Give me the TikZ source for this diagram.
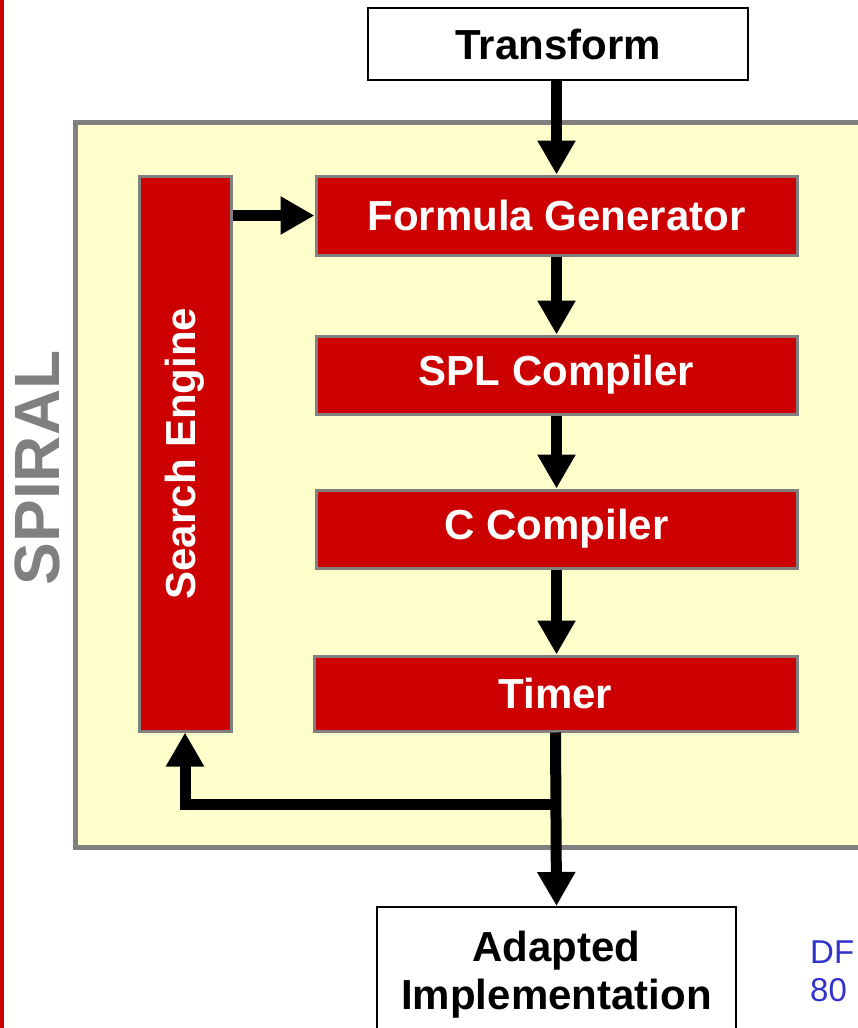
\documentclass[tikz,border=0pt]{standalone}
\usepackage{fontspec}
\setmainfont{Liberation Sans}
\usetikzlibrary{arrows.meta,calc}
\definecolor{boxred}{RGB}{204,0,0}
\definecolor{panel}{RGB}{255,255,204}
\definecolor{edgegray}{RGB}{128,128,128}
\definecolor{noteblue}{RGB}{51,51,204}
\tikzset{
  redbox/.style={draw=edgegray, line width=3pt, fill=boxred, text=white, inner sep=0pt,
    font=\fontsize{42}{50}\selectfont\bfseries},
  whitebox/.style={draw=black, line width=2pt, fill=white, text=black, inner sep=0pt,
    font=\fontsize{42}{48}\selectfont\bfseries, align=center},
  arr/.style={line width=11pt, -{Triangle[width=36pt,length=34pt]}},
}
\begin{document}
\begin{tikzpicture}[x=1pt,y=-1pt]
\useasboundingbox (0,0) rectangle (858,1028);
% left red rule
\fill[boxred] (0,0) rectangle (4,1028);
% yellow panel
\draw[draw=edgegray, line width=5pt, fill=panel] (75.5,122.5) rectangle (880,847.5);
% SPIRAL label
\node[rotate=90, text=edgegray, font=\fontsize{64}{70}\selectfont\bfseries, inner sep=0pt] (spiral) at (37,468) {SPIRAL};
% boxes
\node[whitebox, minimum width=380pt, minimum height=72pt] (tr) at (558,44) {Transform};
\node[redbox, minimum width=481pt, minimum height=79pt] (fg) at (556.5,215.5) {Formula Generator};
\node[redbox, minimum width=481pt, minimum height=78pt] (spl) at (556.5,375) {SPL Compiler};
\node[redbox, minimum width=481pt, minimum height=78pt] (cc) at (556.5,529) {C Compiler};
\node[redbox, minimum width=483pt, minimum height=75pt] (tm) at (555.5,693.5) {Timer};
\node[redbox, minimum width=92pt, minimum height=555pt] (se) at (185,453.5) {};
\node[rotate=90, text=white, font=\fontsize{42}{50}\selectfont\bfseries, inner sep=0pt] (setxt) at (se.center) {Search Engine};
\node[whitebox, minimum width=359pt, minimum height=135pt] (ai) at (556.5,974.5) {Adapted\\Implementation};
% note
\node[anchor=north west, text=noteblue, font=\fontsize{33}{38}\selectfont, align=left, inner sep=0pt] (note) at (810,941) {DF\\80};
% connectors
\draw[arr] (tr.south -| fg.north) -- (fg.north);
\draw[arr] (se.east |- fg.west) -- (fg.west);
\draw[arr] (fg.south) -- (spl.north);
\draw[arr] (spl.south) -- (cc.north);
\draw[arr] (cc.south) -- (tm.north -| cc.south);
\coordinate (br) at ($(tm.south)+(0,72)$);
\draw[arr] (tm.south) -- (ai.north);
\draw[arr] (br) -| (se.south);
\end{tikzpicture}
\end{document}
